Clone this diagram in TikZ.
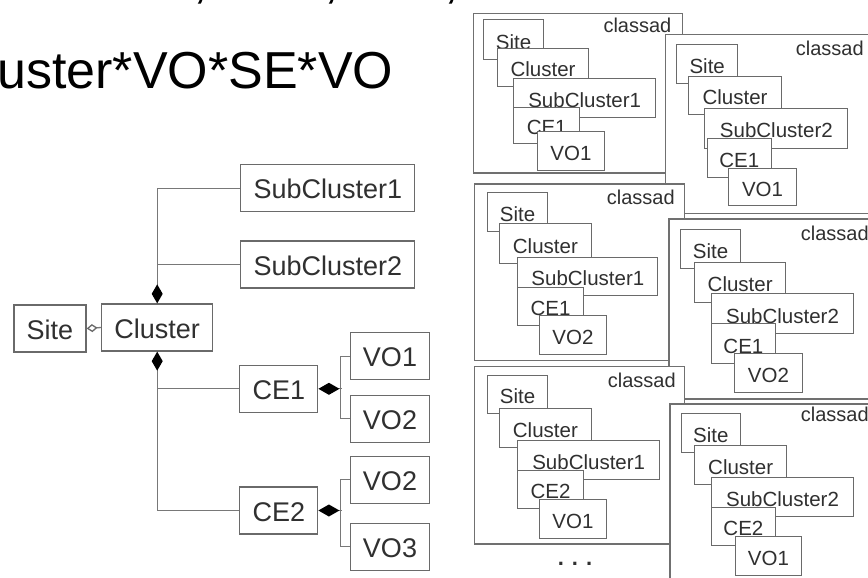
\documentclass[tikz,border=0pt]{standalone}
\usepackage{fontspec}
\setmainfont{Liberation Sans}
\usetikzlibrary{arrows.meta}
\definecolor{lc}{HTML}{6A6A6A}
\definecolor{cc}{HTML}{787878}
\definecolor{pc}{HTML}{707070}
\definecolor{tc}{HTML}{303030}
\begin{document}
\begin{tikzpicture}[x=1pt,y=-1pt,
  lbox/.style={draw=lc, line width=1.3pt, fill=white, text=tc, inner xsep=12.7pt, inner ysep=0pt,
    minimum height=47pt, text height=21pt, text depth=0pt, font=\fontsize{27}{30}\selectfont},
  conn/.style={draw=cc, line width=1.3pt},
  pbox/.style={draw=pc, line width=1.2pt, fill=white, anchor=north west, inner sep=0pt},
  rbox/.style={draw=lc, line width=1.1pt, fill=white, text=tc, inner sep=0pt, anchor=north west,
    text height=18.5pt, text depth=0pt, font=\fontsize{20.5}{24}\selectfont},
  ctext/.style={anchor=base west, inner sep=0pt, text=tc, font=\fontsize{20}{24}\selectfont}
]
\useasboundingbox (0,0) rectangle (868,578);
\fill[white] (0,0) rectangle (868,578);

% title
\node[anchor=base west, inner sep=0pt, font=\fontsize{52}{60}\selectfont] (title) at (-52,88.3) {Cluster*VO*SE*VO};
\node[anchor=base west, inner sep=0pt, font=\fontsize{52}{60}\selectfont] (c1) at (193,-2) {,};
\node[anchor=base west, inner sep=0pt, font=\fontsize{52}{60}\selectfont] (c2) at (324,-2) {,};
\node[anchor=base west, inner sep=0pt, font=\fontsize{52}{60}\selectfont] (c3) at (444,-2) {,};

% left diagram
\node[lbox] (SC1) at (327.8,188.3) {SubCluster1};
\node[lbox] (SC2) at (327.8,264.5) {SubCluster2};
\node[lbox] (Site) at (50,328.5) {Site};
\node[lbox] (Cl) at (157.2,327.5) {Cluster};
\node[lbox] (CE1) at (278.8,388.8) {CE1};
\node[lbox] (CE2) at (278.8,510.5) {CE2};
\node[lbox] (VOa) at (390,356.3) {VO1};
\node[lbox] (VOb) at (390,418.8) {VO2};
\node[lbox] (VOc) at (390,479.7) {VO2};
\node[lbox] (VOd) at (390,546.7) {VO3};

\draw[conn, {Diamond[length=19pt,width=11pt,fill=black,color=black]}-] (Cl.north) |- (SC1.west);
\draw[conn] (Cl.north |- SC2.west) -- (SC2.west);
\draw[conn, {Diamond[length=19pt,width=11pt,fill=black,color=black]}-] (Cl.south) |- (CE2.west);
\draw[conn] (Cl.south |- CE1.west) -- (CE1.west);
\draw[conn, {Diamond[open,length=11pt,width=8pt,color=lc]}-] (Site.east) -- (Cl.west);
\draw[conn, {Diamond[length=21pt,width=12pt,fill=black,color=black]}-] (CE1.east) -- ++(24,0);
\draw[conn] (VOa.west) -- ++(-9,0) |- (VOb.west);
\draw[conn, {Diamond[length=21pt,width=12pt,fill=black,color=black]}-] (CE2.east) -- ++(24,0);
\draw[conn] (VOc.west) -- ++(-9,0) |- (VOd.west);

% panel 1
\node[pbox, minimum width=209pt, minimum height=159.6pt] (P1) at (472.7,12.7) {};
\node[ctext] (P1lab) at (603.3,32.3) {classad};
\node[rbox, minimum width=60.6pt, minimum height=40pt] (P1site) at (482.7,19.3) {Site};
\node[rbox, minimum width=91.6pt, minimum height=37.7pt] (P1cl) at (496.7,48.3) {Cluster};
\node[rbox, minimum width=141.7pt, minimum height=38.4pt] (P1sc) at (513.3,78.3) {SubCluster1};
\node[rbox, minimum width=65.7pt, minimum height=36.6pt] (P1ce) at (513.3,106.7) {CE1};
\node[rbox, minimum width=67.3pt, minimum height=39.3pt] (P1vo) at (536.7,130.7) {VO1};

% panel 2
\node[pbox, minimum width=240pt, minimum height=178.7pt] (P2) at (665,34) {};
\node[ctext] (P2lab) at (795.7,56) {classad};
\node[rbox, minimum width=61.3pt, minimum height=38.7pt] (P2site) at (676,44) {Site};
\node[rbox, minimum width=92.4pt, minimum height=38pt] (P2cl) at (688.3,76) {Cluster};
\node[rbox, minimum width=143pt, minimum height=39.4pt] (P2sc) at (704.3,108.3) {SubCluster2};
\node[rbox, minimum width=64pt, minimum height=39pt] (P2ce) at (706.7,138.3) {CE1};
\node[rbox, minimum width=67.4pt, minimum height=37.3pt] (P2vo) at (728.3,167.7) {VO1};

% panel 3
\node[pbox, minimum width=210pt, minimum height=176.7pt] (P3) at (474,183.3) {};
\node[ctext] (P3lab) at (606.7,204.3) {classad};
\node[rbox, minimum width=60.6pt, minimum height=39.3pt] (P3site) at (486.7,191.7) {Site};
\node[rbox, minimum width=91.7pt, minimum height=40pt] (P3cl) at (499,223.3) {Cluster};
\node[rbox, minimum width=140pt, minimum height=38.3pt] (P3sc) at (517.3,256.7) {SubCluster1};
\node[rbox, minimum width=65.4pt, minimum height=38.3pt] (P3ce) at (517.3,286.7) {CE1};
\node[rbox, minimum width=66.7pt, minimum height=39.3pt] (P3vo) at (539,315) {VO2};

% panel 4
\node[pbox, minimum width=240pt, minimum height=180pt] (P4) at (668.3,218.3) {};
\node[ctext] (P4lab) at (800.7,240) {classad};
\node[rbox, minimum width=60pt, minimum height=38.7pt] (P4site) at (680,229) {Site};
\node[rbox, minimum width=90.7pt, minimum height=40pt] (P4cl) at (694.3,261.7) {Cluster};
\node[rbox, minimum width=142.6pt, minimum height=40pt] (P4sc) at (710.7,293.3) {SubCluster2};
\node[rbox, minimum width=64.3pt, minimum height=40pt] (P4ce) at (710.7,323.3) {CE1};
\node[rbox, minimum width=67.7pt, minimum height=38.4pt] (P4vo) at (734,353.3) {VO2};

% panel 5
\node[pbox, minimum width=210pt, minimum height=177.3pt] (P5) at (474,366) {};
\node[ctext] (P5lab) at (607.7,387.3) {classad};
\node[rbox, minimum width=60.6pt, minimum height=38.3pt] (P5site) at (486.7,375) {Site};
\node[rbox, minimum width=91.7pt, minimum height=39pt] (P5cl) at (499,407.7) {Cluster};
\node[rbox, minimum width=141.7pt, minimum height=39.3pt] (P5sc) at (517.3,440) {SubCluster1};
\node[rbox, minimum width=65.4pt, minimum height=38.3pt] (P5ce) at (517.3,470) {CE2};
\node[rbox, minimum width=66.7pt, minimum height=39pt] (P5vo) at (539,499.3) {VO1};
\node[anchor=base, inner sep=0pt, text=tc, font=\bfseries\fontsize{22}{24}\selectfont] (dots) at (575,565) {.\hspace{8pt}.\hspace{8pt}.};

% panel 6
\node[pbox, minimum width=240pt, minimum height=200pt] (P6) at (669.3,403.3) {};
\node[ctext] (P6lab) at (800.7,421.7) {classad};
\node[rbox, minimum width=59.3pt, minimum height=38.4pt] (P6site) at (680.7,413.3) {Site};
\node[rbox, minimum width=91.7pt, minimum height=39pt] (P6cl) at (694.3,445) {Cluster};
\node[rbox, minimum width=142.6pt, minimum height=38.7pt] (P6sc) at (710.7,477.3) {SubCluster2};
\node[rbox, minimum width=64.3pt, minimum height=38.3pt] (P6ce) at (710.7,506.7) {CE2};
\node[rbox, minimum width=65.7pt, minimum height=39pt] (P6vo) at (735,536) {VO1};
\end{tikzpicture}
\end{document}
